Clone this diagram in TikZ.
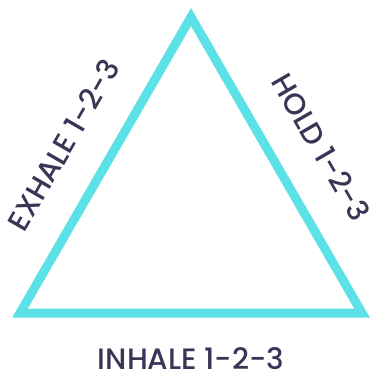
\documentclass[tikz,border=0pt]{standalone}
\usepackage{fontspec}
\setmainfont{Poppins}[UprightFont=* Medium]
\definecolor{breathcyan}{HTML}{5CE1E6}
\definecolor{breathnavy}{HTML}{3A3557}
\tikzset{
	tri/.style={draw=breathcyan, line width=9pt, miter limit=4},
	lbl/.style={text=breathnavy, inner sep=0pt, font=\fontsize{29.5}{32}\selectfont}
}
\begin{document}
\begin{tikzpicture}[x=1pt,y=-1pt]
	\useasboundingbox (0,0) rectangle (370,377);
	\coordinate (top) at (191,17);
	\coordinate (lft) at (20,313);
	\coordinate (rgt) at (362,313);
	\draw[tri] (lft) -- node[lbl, sloped, pos=0.49, above=31pt] (exhale) {EXHALE 1-2-3} (top)
		-- node[lbl, sloped, pos=0.52, above=32pt] (hold) {HOLD 1-2-3} (rgt) -- cycle;
	\node[lbl] (inhale) at (191,359) {INHALE 1-2-3};
\end{tikzpicture}
\end{document}
